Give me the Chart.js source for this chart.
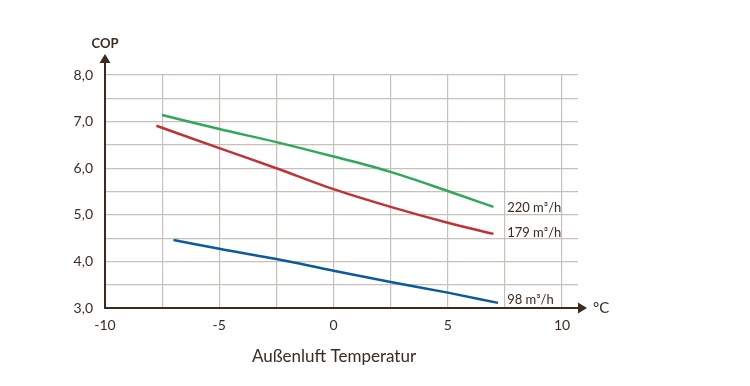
<!DOCTYPE html>
<html>
<head>
<meta charset="utf-8">
<script src="https://cdn.jsdelivr.net/npm/chart.js"></script>
<style>
  html, body { margin: 0; padding: 0; background: #fff; }
  #wrap { width: 750px; height: 386px; position: relative; }
</style>
</head>
<body>
<div id="wrap"><canvas id="copChart"></canvas></div>
<script>
    // ==============================
    // Daten (COP über Außenlufttemperatur)
    // ==============================
    var temp220 = [-7.5, -5, -2.5, 0, 2.5, 5, 7];
    var cop220 = [7.14, 6.84, 6.56, 6.25, 5.92, 5.51, 5.17];

    var temp179 = [-7.75, -5, -2.5, 0, 2.5, 5, 7];
    var cop179 = [6.91, 6.43, 6.0, 5.55, 5.17, 4.83, 4.59];

    var temp98 = [-7, -5, -2.5, 0, 2.5, 5, 7.2];
    var cop98 = [4.46, 4.27, 4.05, 3.8, 3.56, 3.33, 3.11];

    var seriesNames = ["220 m³/h", "179 m³/h", "98 m³/h"];
    var xTicks = [-10, -7.5, -5, -2.5, 0, 2.5, 5, 7.5, 10];
    var yTicks = [3, 3.5, 4, 4.5, 5, 5.5, 6, 6.5, 7, 7.5, 8];

    var ink = "#3b2a20";
    var fontName = "Lato, 'Open Sans', sans-serif";

    function pts(xs, ys) {
        return xs.map(function (x, i) { return { x: x, y: ys[i] }; });
    }

    // ==============================
    // Achsen mit Pfeilen + Beschriftungen
    // ==============================
    var axesPlugin = {
        id: "axesPlugin",
        afterDraw: function (chart) {
            var c = chart.ctx, a = chart.chartArea;
            var xs = chart.scales.x, ys = chart.scales.y;
            c.save();
            c.strokeStyle = ink;
            c.fillStyle = ink;
            c.lineWidth = 2;
            // y-Achse
            c.beginPath();
            c.moveTo(a.left, a.bottom + 1);
            c.lineTo(a.left, 62);
            c.stroke();
            c.beginPath();
            c.moveTo(a.left - 5.5, 63);
            c.lineTo(a.left + 5.5, 63);
            c.lineTo(a.left, 54);
            c.closePath();
            c.fill();
            // x-Achse
            c.beginPath();
            c.moveTo(a.left - 1, a.bottom);
            c.lineTo(579, a.bottom);
            c.stroke();
            c.beginPath();
            c.moveTo(578, a.bottom - 5.5);
            c.lineTo(578, a.bottom + 5.5);
            c.lineTo(587, a.bottom);
            c.closePath();
            c.fill();

            c.textBaseline = "middle";
            c.font = "bold 13px " + fontName;
            c.textAlign = "center";
            c.fillText("COP", a.left, 44);
            c.textAlign = "left";
            c.font = "15px " + fontName;
            c.fillText("°C", 593, a.bottom);
            c.textAlign = "center";
            c.font = "17px " + fontName;
            c.fillText("Außenluft Temperatur", 334, 357);

            // Kurvenbeschriftungen
            c.font = "13px " + fontName;
            c.textAlign = "left";
            c.fillText(seriesNames[0], xs.getPixelForValue(7.6), ys.getPixelForValue(cop220[cop220.length - 1]) + 1);
            c.fillText(seriesNames[1], xs.getPixelForValue(7.6), ys.getPixelForValue(cop179[cop179.length - 1]) - 1);
            c.fillText(seriesNames[2], xs.getPixelForValue(7.6), ys.getPixelForValue(cop98[cop98.length - 1]) - 3);
            c.restore();
        }
    };

    var ctx = document.getElementById("copChart").getContext("2d");
    var copChart = new Chart(ctx, {
        type: "line",
        data: {
            datasets: [{
                label: seriesNames[0],
                data: pts(temp220, cop220),
                borderColor: "#2fa85a",
                borderWidth: 2.5
            }, {
                label: seriesNames[1],
                data: pts(temp179, cop179),
                borderColor: "#be3238",
                borderWidth: 2.5
            }, {
                label: seriesNames[2],
                data: pts(temp98, cop98),
                borderColor: "#0b5aa0",
                borderWidth: 2.5
            }]
        },
        options: {
            responsive: true,
            maintainAspectRatio: false,
            animation: false,
            layout: { padding: { left: 0, right: 172, top: 75, bottom: 48 } },
            elements: {
                point: { radius: 0 },
                line: { cubicInterpolationMode: "monotone", fill: false }
            },
            plugins: {
                legend: { display: false },
                tooltip: { enabled: false }
            },
            scales: {
                x: {
                    type: "linear",
                    min: -10,
                    max: 10.7,
                    afterBuildTicks: function (s) { s.ticks = xTicks.map(function (v) { return { value: v }; }); },
                    afterFit: function (s) { s.height = 30; },
                    border: { display: false },
                    grid: { color: "#c9c0bc", lineWidth: 1.2, drawTicks: false },
                    ticks: {
                        padding: 9,
                        color: ink,
                        font: { family: fontName, size: 14 },
                        callback: function (v) { return v % 5 === 0 ? String(v) : ""; }
                    }
                },
                y: {
                    min: 3,
                    max: 8,
                    afterBuildTicks: function (s) { s.ticks = yTicks.map(function (v) { return { value: v }; }); },
                    afterFit: function (s) { s.width = 105; },
                    border: { display: false },
                    grid: { color: "#c9c0bc", lineWidth: 1.2, drawTicks: false },
                    ticks: {
                        padding: 12,
                        color: ink,
                        font: { family: fontName, size: 14 },
                        callback: function (v) { return v % 1 === 0 ? v.toFixed(1).replace(".", ",") : ""; }
                    }
                }
            }
        },
        plugins: [axesPlugin]
    });
</script>
</body>
</html>
